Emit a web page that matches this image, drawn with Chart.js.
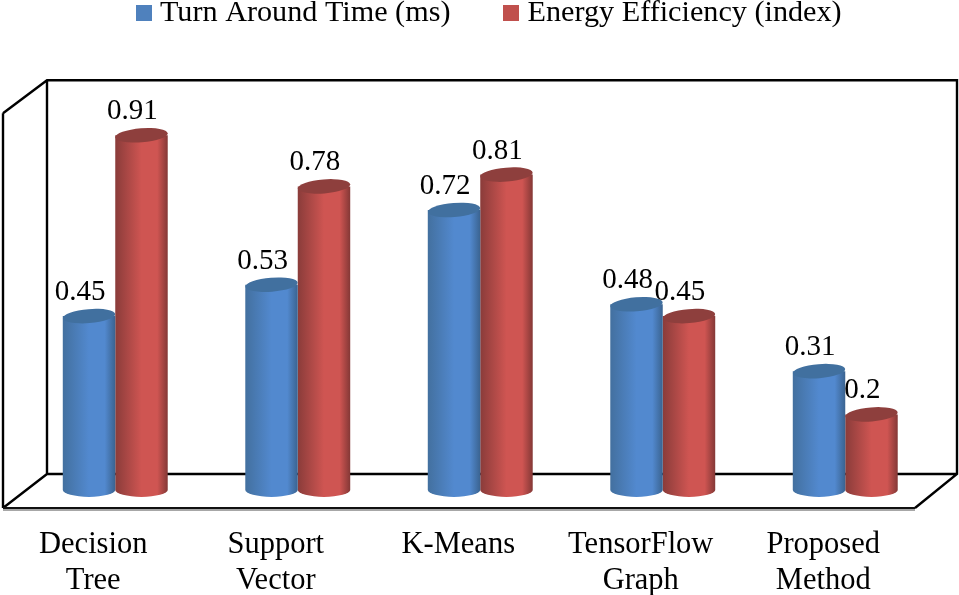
<!DOCTYPE html>
<html><head><meta charset="utf-8">
<style>html,body{margin:0;padding:0;background:#fff}canvas{display:block}</style>
<script src="https://cdn.jsdelivr.net/npm/chart.js@4"></script>
</head><body><canvas id="c" width="959" height="595"></canvas>
<script>
const categories=[["Decision","Tree"],["Support","Vector"],["K-Means"],["TensorFlow","Graph"],["Proposed","Method"]];
const turnAround=[0.45,0.53,0.72,0.48,0.31];
const energy=[0.91,0.78,0.81,0.45,0.2];
const seriesNames=["Turn Around Time (ms)","Energy Efficiency (index)"];
const FONT="'Liberation Serif'";
const FS=29;
const CAT_PCT=0.575;
const BASE=0.008;
const WALL_TOP=1.05;
const pal=[
 {solid:'#4f81bd',edgeL:'#43709f',mid:'#5289cf',edgeR:'#3a6390',cap:'#41709f'},
 {solid:'#c0504d',edgeL:'#8a3c3a',mid:'#cf5552',edgeR:'#843836',cap:'#8e3f3d'}
];
function swatch(col){const s=document.createElement('canvas');s.width=16;s.height=16;const g=s.getContext('2d');g.fillStyle=col;g.fillRect(0,0,16,16);return s;}
function barGeom(chart,ds,i){const sc=chart.scales.x;const w=sc.width/categories.length*CAT_PCT/2;return {cx:sc.getPixelForValue(i)+(ds-.5)*w,w};}
function fillFor(ctx,ds,cx,w){const c=pal[ds];const g=ctx.createLinearGradient(cx-w/2,0,cx+w/2,0);
 g.addColorStop(0,c.edgeL);g.addColorStop(.5,c.mid);g.addColorStop(.8,c.mid);g.addColorStop(1,c.edgeR);return g;}
function scriptFill(c){
 if(c.dataIndex===undefined||!c.chart.scales.x||!c.chart.scales.x.width)return pal[c.datasetIndex].solid;
 const b=barGeom(c.chart,c.datasetIndex,c.dataIndex);return fillFor(c.chart.ctx,c.datasetIndex,b.cx,b.w);
}
const frame={id:'frame',
 afterLayout(chart){chart.legend.left+=24;},
 beforeDatasetsDraw(chart){
  const c=chart.ctx,y=chart.scales.y,top=y.getPixelForValue(WALL_TOP),z=y.getPixelForValue(0);
  const L=47,R=957,B=z-19,F=z+15,FL=3,FR=915,TL=top+33;
  c.save();c.strokeStyle='#000';c.lineWidth=2.4;c.lineJoin='miter';
  c.beginPath();c.moveTo(FL,TL);c.lineTo(L,top);c.lineTo(R,top);c.lineTo(R,B);c.lineTo(FR,F);
  c.moveTo(L,top);c.lineTo(L,B);c.lineTo(R,B);
  c.moveTo(L,B);c.lineTo(FL,F);
  c.moveTo(FL,TL);c.lineTo(FL,F);c.stroke();
  c.strokeStyle='#8a8a8a';c.lineWidth=1.5;c.beginPath();c.moveTo(FL,F+2);c.lineTo(FR,F+2);c.stroke();
  c.strokeStyle='#111';c.lineWidth=2;c.beginPath();c.moveTo(FL,F);c.lineTo(FR,F);c.stroke();
  c.restore();
 },
 afterDatasetsDraw(chart){
  const c=chart.ctx,y=chart.scales.y;
  c.save();
  chart.data.datasets.forEach((d,ds)=>{d.data.forEach((v,i)=>{
    const b=barGeom(chart,ds,i),by=y.getPixelForValue(BASE),ty=y.getPixelForValue(v);
    c.fillStyle=fillFor(c,ds,b.cx,b.w);
    c.beginPath();c.ellipse(b.cx,by,b.w/2,7,0,0,Math.PI);c.fill();
    c.fillStyle=pal[ds].cap;
    c.beginPath();c.ellipse(b.cx,ty,b.w/2,7,-0.08,0,Math.PI*2);c.fill();
  });});
  c.font=FS+"px "+FONT;c.fillStyle='#000';c.textAlign='center';c.textBaseline='alphabetic';
  chart.data.datasets.forEach((d,ds)=>{d.data.forEach((v,i)=>{
    const b=barGeom(chart,ds,i),ty=y.getPixelForValue(v);
    c.fillText(String(v),b.cx-9,ty-16);
  });});
  c.restore();
 }
};
new Chart(document.getElementById('c'),{
 type:'bar',
 data:{labels:categories,datasets:[
  {label:seriesNames[0],data:turnAround,backgroundColor:scriptFill,borderWidth:0,base:BASE,categoryPercentage:CAT_PCT,barPercentage:1},
  {label:seriesNames[1],data:energy,backgroundColor:scriptFill,borderWidth:0,base:BASE,categoryPercentage:CAT_PCT,barPercentage:1}
 ]},
 plugins:[frame],
 options:{
  responsive:false,animation:false,devicePixelRatio:1,
  layout:{padding:{left:24,right:22.5,top:-62,bottom:-30}},
  plugins:{
   tooltip:{enabled:false},
   legend:{display:true,position:'top',
    labels:{color:'#000',font:{family:FONT,size:30.2},usePointStyle:true,pointStyleWidth:2,boxHeight:16,padding:60,
     generateLabels(chart){return chart.data.datasets.map((d,i)=>({text:d.label,fillStyle:pal[i].solid,strokeStyle:pal[i].solid,lineWidth:0,pointStyle:swatch(pal[i].solid),hidden:false,datasetIndex:i,fontColor:'#000'}));}
    }}
  },
  scales:{
   y:{display:false,min:0,max:1.157},
   x:{grid:{display:false},border:{display:false},
    ticks:{color:'#000',font:{family:FONT,size:30.5,lineHeight:1.18},labelOffset:-22,padding:26,maxRotation:0,minRotation:0,autoSkip:false}}
  }
 }
});
</script></body></html>
